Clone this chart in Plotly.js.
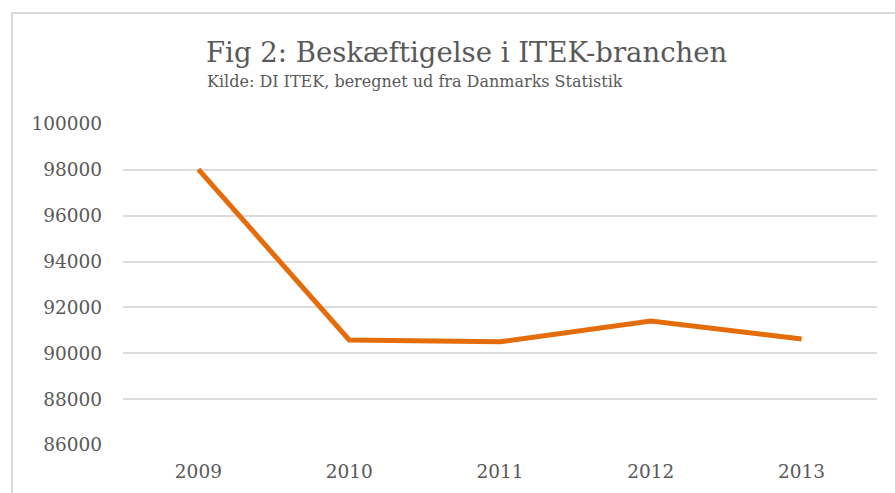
<!DOCTYPE html>
<html>
<head>
<meta charset="utf-8">
<script src="https://cdn.plot.ly/plotly-3.0.1.min.js"></script>
<style>
  html, body { margin: 0; padding: 0; background: #fff; }
  #wrap { position: relative; width: 895px; height: 493px; overflow: hidden; }
  #frame { position: absolute; left: 11px; top: 12px; width: 1000px; height: 1000px;
           border-left: 2px solid #d9d9d9; border-top: 2px solid #d9d9d9; box-sizing: border-box; pointer-events: none; }
  #chart { position: absolute; left: 0; top: 0; width: 895px; height: 493px; }
</style>
</head>
<body>
<div id="wrap">
  <div id="chart"></div>
  <div id="frame"></div>
</div>
<script>
const years = ['2009', '2010', '2011', '2012', '2013'];
const employment = [98020, 90580, 90500, 91410, 90620];
const yTicks = [86000, 88000, 90000, 92000, 94000, 96000, 98000, 100000];
const titleText = 'Fig 2: Beskæftigelse i ITEK-branchen';
const subtitleText = 'Kilde: DI ITEK, beregnet ud fra Danmarks Statistik';

const W = 895, H = 493;
const m = { l: 123, r: 18, t: 124, b: 48 };
const pw = W - m.l - m.r, ph = H - m.t - m.b;
const px2x = x => (x - m.l) / pw;
const py2y = y => (H - m.b - y) / ph;

const textColor = '#595959';
const serif = 'DejaVu Serif, Georgia, serif';

Plotly.newPlot('chart', [{
  x: years,
  y: employment,
  type: 'scatter',
  mode: 'lines',
  line: { color: '#E46C0A', width: 5 },
  hoverinfo: 'x+y'
}], {
  width: W, height: H,
  margin: m,
  paper_bgcolor: '#fff',
  plot_bgcolor: '#fff',
  showlegend: false,
  font: { family: serif, color: textColor },
  xaxis: {
    type: 'category',
    range: [-0.5, 4.5],
    showgrid: false, zeroline: false, showline: false,
    ticks: '',
    ticklabelstandoff: 13,
    tickfont: { family: serif, size: 18.5, color: textColor }
  },
  yaxis: {
    range: [86000, 100000],
    tickvals: yTicks,
    ticktext: yTicks.map(String),
    showgrid: true, gridcolor: '#dcdcdc', gridwidth: 2,
    zeroline: false, showline: false,
    ticks: '',
    ticklabelstandoff: 20,
    tickfont: { family: serif, size: 18.5, color: textColor }
  },
  annotations: [
    { text: titleText, xref: 'paper', yref: 'paper', x: px2x(204), y: py2y(52),
      xanchor: 'left', yanchor: 'middle', showarrow: false,
      font: { family: serif, size: 27.5, color: textColor } },
    { text: subtitleText, xref: 'paper', yref: 'paper', x: px2x(205), y: py2y(81),
      xanchor: 'left', yanchor: 'middle', showarrow: false,
      font: { family: serif, size: 16, color: textColor } }
  ]
}, { displayModeBar: false, staticPlot: true });
</script>
</body>
</html>
